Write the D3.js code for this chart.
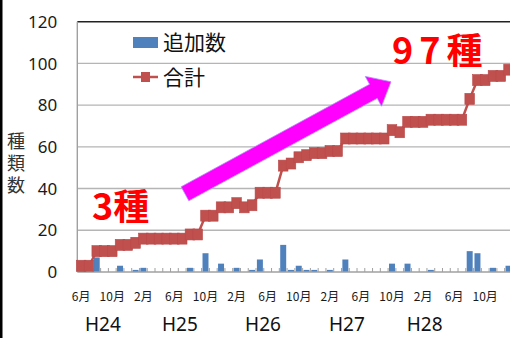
<!DOCTYPE html>
<html>
<head>
<meta charset="utf-8">
<title>種類数</title>
<script src="https://d3js.org/d3.v7.min.js"></script>
<style>
  body { margin: 0; background: #fff; }
  svg { display: block; }
</style>
</head>
<body>
<div id="chart"></div>
<script>
// 月ラベル (H24年6月 〜 H29年1月)
const months = ["6月","7月","8月","9月","10月","11月","12月","1月","2月","3月","4月","5月",
                "6月","7月","8月","9月","10月","11月","12月","1月","2月","3月","4月","5月",
                "6月","7月","8月","9月","10月","11月","12月","1月","2月","3月","4月","5月",
                "6月","7月","8月","9月","10月","11月","12月","1月","2月","3月","4月","5月",
                "6月","7月","8月","9月","10月","11月","12月","1月"];
// 追加数
const added = [3,0,7,0,0,3,0,1,2,0,0,0,0,0,2,0,9,0,4,0,2,0,1,6,0,0,13,1,3,1,1,0,1,0,6,0,
               0,0,0,0,4,0,4,0,0,1,0,0,0,0,10,9,0,2,0,3];
// 合計
const total = [3,3,10,10,10,13,13,14,16,16,16,16,16,16,18,18,27,27,31,31,33,31,32,38,38,38,
               51,52,55,56,57,57,58,58,64,64,64,64,64,64,68,67,72,72,72,73,73,73,73,73,83,92,92,94,94,97];
const yTicks = [0,20,40,60,80,100,120];
const eras = ["H24","H25","H26","H27","H28"];
const eraPos = [2.8,12.7,23.4,34.2,44.2];

const W = 510, H = 338;
const margin = {top: 21.7, left: 77.3};
const ph = 250.3;
const pw = 7.77 * months.length;

const svg = d3.select("#chart").append("svg")
    .attr("width", W).attr("height", H);

svg.append("rect").attr("width", W).attr("height", H).attr("fill", "#fff");
svg.append("rect").attr("width", 2.5).attr("height", H).attr("fill", "#000");

const g = svg.append("g")
    .attr("transform", "translate(" + margin.left + "," + margin.top + ")");

const x = d3.scaleBand().domain(d3.range(months.length)).range([0, pw]).paddingInner(0.23).paddingOuter(0.115);
const xc = d3.scaleLinear().domain([0, months.length]).range([0, pw]);
const y = d3.scaleLinear().domain([0, 120]).range([ph, 0]);

// グリッド
g.selectAll(".grid").data(yTicks.filter(d => d > 0)).enter().append("line")
    .attr("x1", 0).attr("x2", W)
    .attr("y1", d => y(d)).attr("y2", d => y(d))
    .attr("stroke", d => d === 120 ? "#222" : "#b5b5b5")
    .attr("stroke-width", 1.4);

// y軸ラベル
g.selectAll(".ylab").data(yTicks).enter().append("text")
    .attr("x", -20).attr("y", d => y(d)).attr("dy", "0.36em")
    .attr("text-anchor", "end")
    .attr("font-family", "Noto Sans, sans-serif").attr("font-size", 17)
    .attr("fill", "#1a1a1a")
    .text(d => d);

// 棒
g.selectAll(".bar").data(added).enter().append("rect")
    .attr("x", (d, i) => x(i)).attr("width", x.bandwidth())
    .attr("y", d => y(d)).attr("height", d => ph - y(d))
    .attr("fill", "#4f81bd");

// 軸線
g.append("line").attr("x1", 0).attr("x2", 0).attr("y1", 0).attr("y2", ph)
    .attr("stroke", "#a0a0a0").attr("stroke-width", 1.4);
g.append("line").attr("x1", 0).attr("x2", W).attr("y1", ph).attr("y2", ph)
    .attr("stroke", "#a0a0a0").attr("stroke-width", 1.6);
g.selectAll(".tick").data(d3.range(months.length + 1)).enter().append("line")
    .attr("x1", d => xc(d)).attr("x2", d => xc(d))
    .attr("y1", ph).attr("y2", ph - 4)
    .attr("stroke", "#a0a0a0").attr("stroke-width", 1);

// 合計の線
const line = d3.line().x((d, i) => xc(i + 0.5)).y(d => y(d));
g.append("path").datum(total).attr("d", line)
    .attr("fill", "none").attr("stroke", "#c0504d").attr("stroke-width", 2.5);
g.selectAll(".mk").data(total).enter().append("rect")
    .attr("x", (d, i) => xc(i + 0.5) - 4.8).attr("y", d => y(d) - 5.5)
    .attr("width", 9.6).attr("height", 11)
    .attr("fill", "#c0504d").attr("stroke", "#b9484a").attr("stroke-width", 0.6);

// x軸ラベル
g.selectAll(".mlab").data(months.map((m, i) => [m, i]).filter(d => d[1] % 4 === 0)).enter().append("text")
    .attr("x", d => xc(d[1] + 0.5)).attr("y", 279)
    .attr("text-anchor", "middle")
    .attr("font-family", "Noto Sans CJK JP, sans-serif").attr("font-size", 12)
    .attr("fill", "#1a1a1a")
    .text(d => d[0]);

g.selectAll(".era").data(eras).enter().append("text")
    .attr("x", (d, i) => xc(eraPos[i] + 0.5)).attr("y", 309.5)
    .attr("text-anchor", "middle")
    .attr("font-family", "Noto Sans, sans-serif").attr("font-size", 19)
    .attr("fill", "#111")
    .text(d => d);

// y軸タイトル (縦書き)
svg.append("text")
    .attr("x", 16).attr("y", 132)
    .attr("writing-mode", "vertical-rl")
    .attr("letter-spacing", 4)
    .attr("font-family", "Noto Sans CJK JP, sans-serif").attr("font-size", 18)
    .attr("fill", "#333")
    .text("種類数");

// 凡例
svg.append("rect").attr("x", 133).attr("y", 37).attr("width", 25).attr("height", 11).attr("fill", "#4f81bd");
svg.append("text").attr("x", 163).attr("y", 50)
    .attr("font-family", "Noto Sans CJK JP, sans-serif").attr("font-size", 21).attr("fill", "#111")
    .text("追加数");
svg.append("line").attr("x1", 133).attr("x2", 158).attr("y1", 77).attr("y2", 77)
    .attr("stroke", "#c0504d").attr("stroke-width", 2.5);
svg.append("rect").attr("x", 141).attr("y", 72).attr("width", 9).attr("height", 10).attr("fill", "#c0504d");
svg.append("text").attr("x", 163).attr("y", 85)
    .attr("font-family", "Noto Sans CJK JP, sans-serif").attr("font-size", 21).attr("fill", "#111")
    .text("合計");

// 矢印
const p0 = [xc(13.86), y(37.5)], p1 = [xc(40.37), y(91.2)];
const dx = p1[0] - p0[0], dy = p1[1] - p0[1], len = Math.hypot(dx, dy);
const ux = dx / len, uy = dy / len, nx = -uy, ny = ux;
const sw = 8, hw = 17, hl = 20;
const bx = p1[0] - ux * hl, by = p1[1] - uy * hl;
const pts = [
  [p0[0] + nx * sw, p0[1] + ny * sw],
  [bx + nx * sw, by + ny * sw],
  [bx + nx * hw, by + ny * hw],
  p1,
  [bx - nx * hw, by - ny * hw],
  [bx - nx * sw, by - ny * sw],
  [p0[0] - nx * sw, p0[1] - ny * sw]
];
g.append("path").attr("d", "M" + pts.map(p => p.join(",")).join("L") + "Z")
    .attr("fill", "#ff00ff").attr("stroke", "#b08cff").attr("stroke-width", 0.8);

// 注記
svg.append("text").attr("x", 92).attr("y", 220)
    .attr("font-family", "Noto Sans CJK JP, sans-serif").attr("font-size", 36).attr("font-weight", "bold")
    .attr("fill", "#ff0000").text("3種");
svg.append("text").attr("x", 392).attr("y", 64)
    .attr("font-family", "Noto Sans CJK JP, sans-serif").attr("font-size", 36).attr("font-weight", "bold")
    .attr("letter-spacing", 6)
    .attr("fill", "#ff0000").text("97種");
</script>
</body>
</html>
